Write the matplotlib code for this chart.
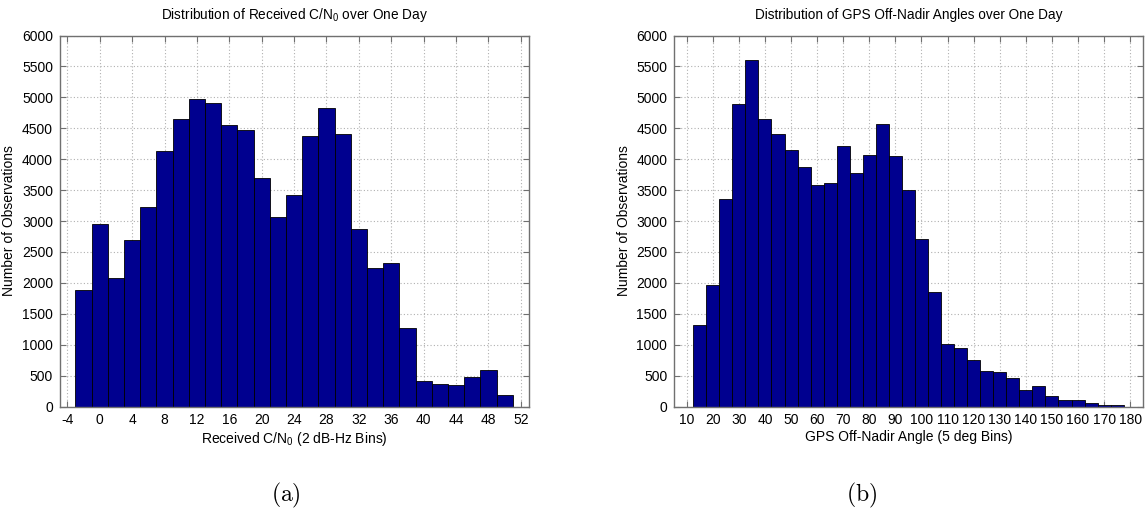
import matplotlib
matplotlib.use("Agg")
import matplotlib.pyplot as plt

plt.rcParams["font.family"] = ["Liberation Sans", "DejaVu Sans"]
plt.rcParams["mathtext.fontset"] = "custom"
plt.rcParams["mathtext.rm"] = "Liberation Sans"
plt.rcParams["mathtext.it"] = "Liberation Sans:italic"
plt.rcParams["axes.unicode_minus"] = False

# Received C/N0 histogram, 2 dB-Hz bins
cn0_centers = [-2, 0, 2, 4, 6, 8, 10, 12, 14, 16, 18, 20, 22, 24, 26, 28,
               30, 32, 34, 36, 38, 40, 42, 44, 46, 48, 50]
cn0_counts = [1890, 2945, 2075, 2692, 3232, 4125, 4645, 4970, 4915, 4545,
              4468, 3690, 3060, 3415, 4383, 4835, 4415, 2870, 2248, 2322,
              1272, 418, 365, 343, 476, 585, 182]
cn0_ticks = [-4, 0, 4, 8, 12, 16, 20, 24, 28, 32, 36, 40, 44, 48, 52]

# GPS off-nadir angle histogram, 5 deg bins
nadir_centers = [15, 20, 25, 30, 35, 40, 45, 50, 55, 60, 65, 70, 75, 80, 85,
                 90, 95, 100, 105, 110, 115, 120, 125, 130, 135, 140, 145,
                 150, 155, 160, 165, 170, 175]
nadir_counts = [1312, 1968, 3355, 4887, 5597, 4645, 4414, 4145, 3876, 3575,
                3613, 4220, 3774, 4070, 4575, 4054, 3505, 2710, 1855, 1016,
                946, 753, 581, 565, 468, 274, 333, 177, 113, 102, 54, 32, 30]
nadir_ticks = [10, 20, 30, 40, 50, 60, 70, 80, 90, 100, 110, 120, 130, 140,
               150, 160, 170, 180]

y_ticks = list(range(0, 6001, 500))

BAR_COLOR = "#00008f"
FRAME = "#707070"

fig = plt.figure(figsize=(11.46, 5.12), dpi=100)
ax_a = fig.add_axes([0.0524, 0.206, 0.4095, 0.7246])
ax_b = fig.add_axes([0.5884, 0.206, 0.4092, 0.7246])


def style_axes(ax, xticks, xlim):
    ax.set_axisbelow(True)
    ax.set_xlim(*xlim)
    ax.set_ylim(0, 6000)
    ax.set_xticks(xticks)
    ax.set_yticks(y_ticks)
    ax.grid(True, color="#b0b0b0", linestyle=(0, (1, 2)), linewidth=0.8)
    ax.tick_params(direction="in", top=True, right=True, length=4,
                   width=0.8, color=FRAME, labelsize=10, pad=5)
    for sp in ax.spines.values():
        sp.set_color(FRAME)
        sp.set_linewidth(1.0)
    ax.set_ylabel("Number of Observations", fontsize=10, labelpad=4)


ax_a.bar(cn0_centers, cn0_counts, width=2, color=BAR_COLOR,
         edgecolor="black", linewidth=0.6)
style_axes(ax_a, cn0_ticks, (-4.9, 53.05))
ax_a.set_title(r"Distribution of Received C/N$_0$ over One Day",
               fontsize=9.8, pad=12)
ax_a.set_xlabel(r"Received C/N$_0$ (2 dB-Hz Bins)", fontsize=10, labelpad=2)

ax_b.bar(nadir_centers, nadir_counts, width=5, color=BAR_COLOR,
         edgecolor="black", linewidth=0.6)
style_axes(ax_b, nadir_ticks, (5.25, 185.0))
ax_b.set_title("Distribution of GPS Off-Nadir Angles over One Day",
               fontsize=9.8, pad=12)
ax_b.set_xlabel("GPS Off-Nadir Angle (5 deg Bins)", fontsize=10, labelpad=2)

# subfigure captions
fig.text(0.2496, 0.033, r"$\mathrm{(a)}$", math_fontfamily="cm",
         fontsize=17, ha="center", va="center")
fig.text(0.7522, 0.033, r"$\mathrm{(b)}$", math_fontfamily="cm",
         fontsize=17, ha="center", va="center")

fig.savefig("out.png", dpi=100)
